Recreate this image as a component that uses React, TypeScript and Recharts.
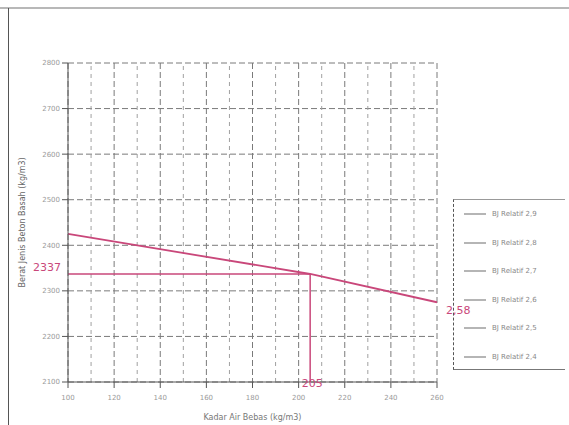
import React from "react";
import {
  LineChart, Line, XAxis, YAxis, CartesianGrid, ReferenceLine, ReferenceDot,
} from "recharts";

// Kadar air bebas (x) vs berat jenis beton basah (y)
const xTicks = [100, 120, 140, 160, 180, 200, 220, 240, 260];
const xMinor = [110, 130, 150, 170, 190, 210, 230, 250];
const yTicks = [2100, 2200, 2300, 2400, 2500, 2600, 2700, 2800];

// garis interpolasi BJ relatif 2,58
const lineX = [100, 205, 260];
const lineY = [2425, 2337, 2275];

const waterContent = 205;
const wetDensity = 2337;
const relLabel = "2,58";

const legendNames = [
  "BJ Relatif 2,9",
  "BJ Relatif 2,8",
  "BJ Relatif 2,7",
  "BJ Relatif 2,6",
  "BJ Relatif 2,5",
  "BJ Relatif 2,4",
];

const PINK = "#c9477a";
const data = lineX.map((x, i) => ({ x, y: lineY[i] }));

const tickStyle = { fontSize: 7, fill: "#9a9a9a", fontFamily: "DejaVu Sans" };

export default function App() {
  return (
    <div style={{ position: "absolute", left: 0, top: 0, width: 569, height: 425, background: "#fff", fontFamily: "DejaVu Sans" }}>
      {/* scan frame */}
      <div style={{ position: "absolute", left: 0, top: 7, width: 569, height: 2, background: "#b8b8b8" }} />
      <div style={{ position: "absolute", left: 8, top: 8, width: 1, height: 417, background: "#555" }} />

      <LineChart width={569} height={425} data={data} margin={{ top: 63, right: 132, left: 38, bottom: 13 }}>
        <CartesianGrid stroke="#7a7a7a" strokeDasharray="6 3" />
        {xMinor.map((v) => (
          <ReferenceLine key={v} x={v} stroke="#a0a0a0" strokeDasharray="4 4" />
        ))}
        <XAxis
          type="number"
          dataKey="x"
          domain={[100, 260]}
          ticks={xTicks}
          height={30}
          tick={{ ...tickStyle, dy: 5 }}
          axisLine={{ stroke: "#555" }}
          tickLine={{ stroke: "#555" }}
          label={{ value: "Kadar Air Bebas (kg/m3)", position: "insideBottom", offset: -8, style: { fontSize: 8, fill: "#777" } }}
        />
        <YAxis
          type="number"
          domain={[2100, 2800]}
          ticks={yTicks}
          width={30}
          tick={tickStyle}
          axisLine={{ stroke: "#555" }}
          tickLine={{ stroke: "#555" }}
          label={{ value: "Berat Jenis Beton Basah (kg/m3)", angle: -90, position: "insideLeft", offset: -16, dy: 65, style: { fontSize: 8, fill: "#666" } }}
        />
        <ReferenceLine
          segment={[{ x: 100, y: wetDensity }, { x: waterContent, y: wetDensity }]}
          stroke={PINK}
          strokeWidth={1.5}
        />
        <ReferenceLine
          segment={[{ x: waterContent, y: wetDensity }, { x: waterContent, y: 2100 }]}
          stroke={PINK}
          strokeWidth={1.5}
        />
        <Line type="linear" dataKey="y" stroke={PINK} strokeWidth={1.8} dot={false} isAnimationActive={false} />
        <ReferenceDot
          x={100}
          y={wetDensity}
          r={1}
          fill="none"
          stroke="none"
          label={(p: any) => (
            <text x={p.viewBox.x - 6} y={p.viewBox.y - 2} textAnchor="end" fontSize={11} fill={PINK}>{wetDensity}</text>
          )}
        />
        <ReferenceDot
          x={waterContent}
          y={2100}
          r={1}
          fill="none"
          stroke="none"
          label={(p: any) => (
            <text x={p.viewBox.x + 3} y={p.viewBox.y + 6} textAnchor="middle" fontSize={11} fill={PINK}>{waterContent}</text>
          )}
        />
        <ReferenceDot
          x={lineX[lineX.length - 1]}
          y={lineY[lineY.length - 1]}
          r={1}
          fill="none"
          stroke="none"
          label={(p: any) => (
            <text x={p.viewBox.x + 10} y={p.viewBox.y + 13} textAnchor="start" fontSize={11} fill={PINK}>{relLabel}</text>
          )}
        />
      </LineChart>

      {/* legend */}
      <div style={{ position: "absolute", left: 453, top: 199, width: 112, height: 171, borderTop: "1px solid #999", borderBottom: "1px solid #777", borderLeft: "1px dashed #555", boxSizing: "border-box" }}>
        {legendNames.map((n, i) => (
          <div key={n} style={{ position: "absolute", left: 10, top: 10 + i * 28.5, display: "flex", alignItems: "center", gap: 6 }}>
            <span style={{ width: 22, height: 2, background: "#b5b5b5" }} />
            <span style={{ fontSize: 7, color: "#888", whiteSpace: "nowrap" }}>{n}</span>
          </div>
        ))}
      </div>
    </div>
  );
}
